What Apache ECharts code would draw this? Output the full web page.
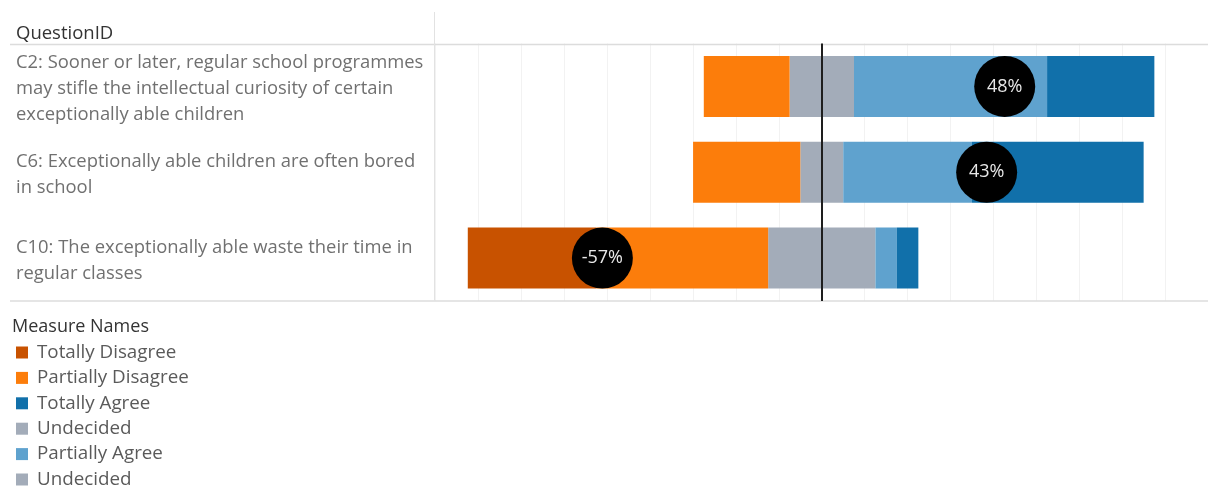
<!DOCTYPE html>
<html>
<head>
<meta charset="utf-8">
<script src="https://cdn.jsdelivr.net/npm/echarts@6/dist/echarts.min.js"></script>
<style>
  html, body { margin: 0; padding: 0; background: #ffffff; }
  #chart { width: 1208px; height: 488px; }
</style>
</head>
<body>
<div id="chart"></div>
<script>
// ---- Data (respondent counts) ----
const categories = [
  'C2: Sooner or later, regular school programmes\nmay stifle the intellectual curiosity of certain\nexceptionally able children',
  'C6: Exceptionally able children are often bored\nin school',
  'C10: The exceptionally able waste their time in\nregular classes'
];
const totallyDisagree   = [0, 0, 30];
const partiallyDisagree = [20, 25, 40];
const undecided         = [15, 10, 25];
const partiallyAgree    = [45, 30, 5];
const totallyAgree      = [25, 40, 5];
// net agreement (% agree − % disagree), shown in the circles
const netPercent        = [47.6, 42.9, -57.1];

const legendNamesA = ['Totally Disagree', 'Partially Disagree', 'Totally Agree', 'Undecided (disagree side)', 'Partially Agree'];
const legendNamesB = ['Undecided (agree side)'];

const C = {
  td: '#c85200', pd: '#fc7d0b', ta: '#1170aa', un: '#a3acb9', pa: '#5fa2ce'
};

const FONT = '"Open Sans", "Noto Sans", sans-serif';

const chart = echarts.init(document.getElementById('chart'), null, { renderer: 'canvas' });

const gridLeft = 435.6;
const gridTop = 43.5;
const gridHeight = 257.5;
const gridWidth = 774.7;

const barW = 61;

function barSeries(name, data, color, extra) {
  return Object.assign({
    name: name,
    type: 'bar',
    stack: 'total',
    xAxisIndex: 0,
    yAxisIndex: 0,
    barWidth: barW,
    data: data,
    itemStyle: { color: color },
    emphasis: { disabled: true },
    silent: true,
    z: 2
  }, extra || {});
}

const legendBase = {
  orient: 'vertical',
  left: 16,
  padding: 0,
  itemWidth: 12,
  itemHeight: 12,
  itemGap: 6.4,
  icon: 'rect',
  selectedMode: false,
  formatter: function (n) { return n.indexOf('Undecided') === 0 ? 'Undecided' : n; },
  textStyle: { color: '#5a5a5a', fontSize: 18.8, fontFamily: FONT, padding: [0, 0, 0, 4] }
};

const option = {
  animation: false,
  textStyle: { fontFamily: FONT },
  grid: { left: gridLeft, top: gridTop, width: gridWidth, height: gridHeight, containLabel: false },
  xAxis: [
    {
      type: 'value', min: -90, max: 90, interval: 10,
      axisLine: { show: false }, axisTick: { show: false }, axisLabel: { show: false },
      splitLine: { show: true, lineStyle: { color: '#f2f2f2', width: 1 } }
    },
    {
      type: 'value', min: -100.5, max: 100.5,
      show: false, splitLine: { show: false }
    }
  ],
  yAxis: [{
    type: 'category',
    data: categories,
    inverse: true,
    axisLine: { show: false },
    axisTick: { show: false },
    splitLine: { show: false },
    axisLabel: {
      show: true,
      align: 'left',
      verticalAlign: 'middle',
      margin: gridLeft - 16,
      fontFamily: FONT,
      formatter: function (v) {
        return '{s| }\n' + v.split('\n').map(l => '{t|' + l + '}').join('\n');
      },
      rich: {
        s: { fontSize: 1, lineHeight: 5, height: 5 },
        t: { color: '#707070', fontSize: 18.4, lineHeight: 25.8, fontFamily: FONT, align: 'left' }
      }
    }
  }],
  legend: [
    Object.assign({}, legendBase, { top: 343, data: legendNamesA }),
    Object.assign({}, legendBase, { top: 343 + 5 * 25.4, data: legendNamesB })
  ],
  graphic: [
    { type: 'text', left: 16, top: 24, style: { text: 'QuestionID', fill: '#333333', font: '18.5px ' + FONT } },
    { type: 'text', left: 12, top: 318, style: { text: 'Measure Names', fill: '#333333', font: '18px ' + FONT } },
    { type: 'line', shape: { x1: 10, y1: 44.5, x2: 1208, y2: 44.5 }, style: { stroke: '#dcdcdc', lineWidth: 1.5 }, z: 1 },
    { type: 'line', shape: { x1: 10, y1: 301, x2: 1208, y2: 301 }, style: { stroke: '#dcdcdc', lineWidth: 1.5 }, z: 1 },
    { type: 'line', shape: { x1: 434.5, y1: 12, x2: 434.5, y2: 301 }, style: { stroke: '#e2e2e2', lineWidth: 1 }, z: 1 }
  ],
  series: [
    barSeries('Undecided (disagree side)', undecided.map(v => -v / 2), C.un, {
      markLine: {
        silent: true, symbol: 'none', label: { show: false },
        lineStyle: { color: '#1e1e1e', width: 2, type: 'solid' },
        data: [{ xAxis: 0 }]
      }
    }),
    barSeries('Partially Disagree', partiallyDisagree.map(v => -v), C.pd),
    barSeries('Totally Disagree', totallyDisagree.map(v => -v), C.td),
    barSeries('Undecided (agree side)', undecided.map(v => v / 2), C.un),
    barSeries('Partially Agree', partiallyAgree, C.pa),
    barSeries('Totally Agree', totallyAgree, C.ta),
    {
      name: 'Net',
      type: 'scatter',
      xAxisIndex: 1,
      yAxisIndex: 0,
      symbol: 'circle',
      symbolSize: 61,
      silent: true,
      z: 5,
      itemStyle: { color: '#000000', opacity: 1 },
      data: netPercent.map((v, i) => [v, i]),
      label: {
        show: true, position: 'inside',
        formatter: p => Math.round(p.value[0]) + '%',
        color: '#e8e8e8', fontSize: 18, fontFamily: FONT
      }
    }
  ]
};

chart.setOption(option);
</script>
</body>
</html>
